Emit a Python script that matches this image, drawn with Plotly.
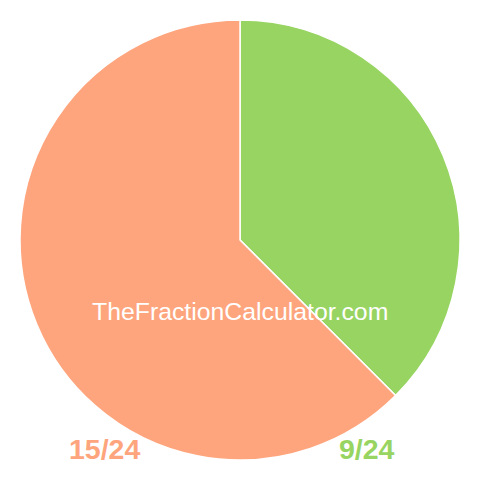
import plotly.graph_objects as go

labels = ["9/24", "15/24"]
values = [9, 15]
colors = ["#98d462", "#fea57d"]

fig = go.Figure(go.Pie(
    labels=labels, values=values, sort=False, direction="clockwise", rotation=0,
    marker=dict(colors=colors, line=dict(color="white", width=1.5)),
    textinfo="none", hoverinfo="label", showlegend=False,
    domain=dict(x=[20/480, 460/480], y=[20/480, 460/480]),
))

fig.add_annotation(x=0.5, y=1 - 311/480, xref="paper", yref="paper",
                   xanchor="center", yanchor="middle",
                   text="TheFractionCalculator.com", showarrow=False,
                   font=dict(family="Liberation Sans, Arial", size=24.8, color="white"))
fig.add_annotation(x=104/480, y=1 - 449/480, xref="paper", yref="paper",
                   xanchor="center", yanchor="middle",
                   text="<b>" + labels[1] + "</b>", showarrow=False,
                   font=dict(family="Liberation Sans, Arial", size=28.5, color=colors[1]))
fig.add_annotation(x=366.7/480, y=1 - 449/480, xref="paper", yref="paper",
                   xanchor="center", yanchor="middle",
                   text="<b>" + labels[0] + "</b>", showarrow=False,
                   font=dict(family="Liberation Sans, Arial", size=28.5, color=colors[0]))

fig.update_layout(width=480, height=480, margin=dict(l=0, r=0, t=0, b=0),
                  paper_bgcolor="white", plot_bgcolor="white")
fig.write_html("out.html", config={"displayModeBar": False},
               post_script="document.body.style.margin='0';")
